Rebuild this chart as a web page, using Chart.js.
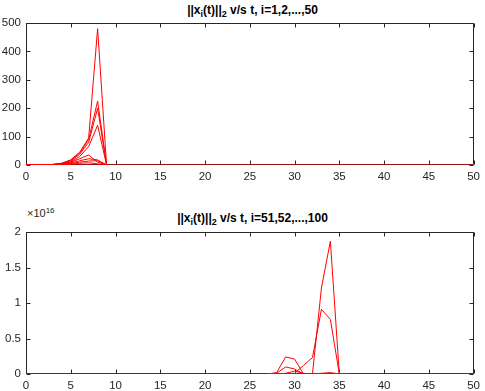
<!DOCTYPE html>
<html>
<head>
<meta charset="utf-8">
<script src="https://cdn.jsdelivr.net/npm/chart.js@4"></script>
<style>
  body { margin: 0; background: #fff; width: 485px; height: 391px; position: relative; overflow: hidden; font-family: "Liberation Sans", Arial, sans-serif; color: #000; }
  .title { position: absolute; left: 26px; width: 453px; text-align: center; font-weight: bold; font-size: 12px; line-height: 14px; }
  .title sub { font-size: 9px; vertical-align: -3px; line-height: 0; }
  .expo { position: absolute; left: 27px; top: 207px; font-size: 11px; color: #262626; }
  .expo sup { font-size: 8px; vertical-align: 4px; line-height: 0; }
  .box { position: absolute; left: 0; width: 485px; }
</style>
</head>
<body>
<div class="title" style="top:3px">||x<sub>i</sub>(t)||<sub>2</sub> v/s t, i=1,2,...,50</div>
<div class="box" style="top:0;height:195px"><canvas id="top"></canvas></div>
<div class="title" style="top:211px">||x<sub>i</sub>(t)||<sub>2</sub> v/s t, i=51,52,...,100</div>
<div class="expo">&times;10<sup>16</sup></div>
<div class="box" style="top:196px;height:195px"><canvas id="bottom"></canvas></div>
<script>
// time axis limits and ticks
const tLimits = [0, 50];
const tTicks = [0, 5, 10, 15, 20, 25, 30, 35, 40, 45, 50];

// i = 1..50 : nonzero part of the norms (t = 0..9), zero afterwards
const tTop = [0, 1, 2, 3, 4, 5, 6, 7, 8, 9];
const topSeries = [
  [0, 0.1, 0.5, 2, 6, 18, 45, 95, 480, 0],
  [0, 0.1, 0.5, 2, 6, 17, 42, 90, 225, 0],
  [0, 0.1, 0.4, 1.8, 5, 15, 38, 80, 200, 0],
  [0, 0.1, 0.3, 1.5, 4, 12, 30, 65, 140, 0],
  [0, 0.1, 0.3, 1.2, 4, 10, 22, 35, 10, 0],
  [0, 0.1, 0.2, 1, 3, 7, 15, 22, 18, 0],
  [0, 0.05, 0.2, 0.8, 2, 5, 10, 14, 15, 0],
  [0, 0.05, 0.1, 0.5, 1.5, 3, 6, 8, 4, 0]
];
const topTicks = [0, 100, 200, 300, 400, 500];

// i = 51..100 : nonzero part (t = 27..36), zero elsewhere
const tBottom = [27, 28, 29, 30, 31, 32, 33, 34, 35, 36];
const bottomSeries = [
  [0, 0, 0, 0, 0, 0, 1.21e16, 1.87e16, 0, 0],
  [0, 0, 0, 0.01e16, 0.12e16, 0.23e16, 0.91e16, 0.77e16, 0, 0],
  [0, 0.02e16, 0.24e16, 0.21e16, 0, 0, 0, 0, 0, 0],
  [0, 0.01e16, 0.1e16, 0.07e16, 0, 0, 0, 0, 0, 0],
  [0, 0, 0.01e16, 0.04e16, 0.01e16, 0, 0, 0, 0, 0],
  [0, 0, 0, 0, 0, 0, 0.01e16, 0.02e16, 0, 0]
];
const bottomTicks = [0, 0.5e16, 1e16, 1.5e16, 2e16];
const bottomExp = 1e16;

const AXIS = '#262626';
const font = { family: '"Liberation Sans", Arial, sans-serif', size: 11.5 };

// MATLAB-like box with inward ticks on all four sides
const boxTicks = {
  id: 'boxTicks',
  beforeDatasetsDraw(chart) {
    const { ctx, chartArea: a, scales } = chart;
    const L = 4;
    ctx.save();
    ctx.strokeStyle = AXIS;
    ctx.lineWidth = 1;
    ctx.beginPath();
    const l = Math.round(a.left) + 0.5, r = Math.round(a.right) - 0.5;
    const t = Math.round(a.top) + 0.5, b = Math.round(a.bottom) - 0.5;
    ctx.rect(l, t, r - l, b - t);
    scales.x.ticks.forEach(tk => {
      const px = Math.round(scales.x.getPixelForValue(tk.value)) + 0.5;
      ctx.moveTo(px, b); ctx.lineTo(px, b - L);
      ctx.moveTo(px, t); ctx.lineTo(px, t + L);
    });
    scales.y.ticks.forEach(tk => {
      const py = Math.round(scales.y.getPixelForValue(tk.value)) + 0.5;
      ctx.moveTo(l, py); ctx.lineTo(l + L, py);
      ctx.moveTo(r, py); ctx.lineTo(r - L, py);
    });
    ctx.stroke();
    ctx.restore();
  }
};

function makeDatasets(tv, series) {
  const sets = series.map(s => ({
    data: s.map((v, k) => ({ x: tv[k], y: v }))
  }));
  // the remaining norms sit at zero over the whole range
  sets.push({ data: tLimits.map(x => ({ x, y: 0 })) });
  return sets.map(d => Object.assign(d, {
    borderColor: '#ff0000', borderWidth: 1, pointRadius: 0, fill: false, tension: 0
  }));
}

function makeChart(id, tv, series, yTicks, fmt, padTop, xHeight) {
  new Chart(document.getElementById(id), {
    type: 'line',
    data: { datasets: makeDatasets(tv, series) },
    plugins: [boxTicks],
    options: {
      responsive: true,
      maintainAspectRatio: false,
      animation: false,
      layout: { padding: { top: padTop, right: 6, left: 0, bottom: 0 } },
      plugins: { legend: { display: false }, tooltip: { enabled: false }, title: { display: false } },
      scales: {
        x: {
          type: 'linear', min: tLimits[0], max: tLimits[1],
          afterBuildTicks: s => { s.ticks = tTicks.map(v => ({ value: v })); },
          afterFit: s => { s.height = xHeight; },
          grid: { display: false, drawTicks: false },
          border: { display: false },
          ticks: { color: AXIS, font, padding: 5, maxRotation: 0 }
        },
        y: {
          min: yTicks[0], max: yTicks[yTicks.length - 1],
          afterBuildTicks: s => { s.ticks = yTicks.map(v => ({ value: v })); },
          afterFit: s => { s.width = 26; },
          grid: { display: false, drawTicks: false },
          border: { display: false },
          ticks: { color: AXIS, font, padding: 5, callback: fmt }
        }
      }
    }
  });
}

makeChart('top', tTop, topSeries, topTicks, v => String(v), 23, 30);
makeChart('bottom', tBottom, bottomSeries, bottomTicks, v => String(v / bottomExp), 36, 17);
</script>
</body>
</html>
